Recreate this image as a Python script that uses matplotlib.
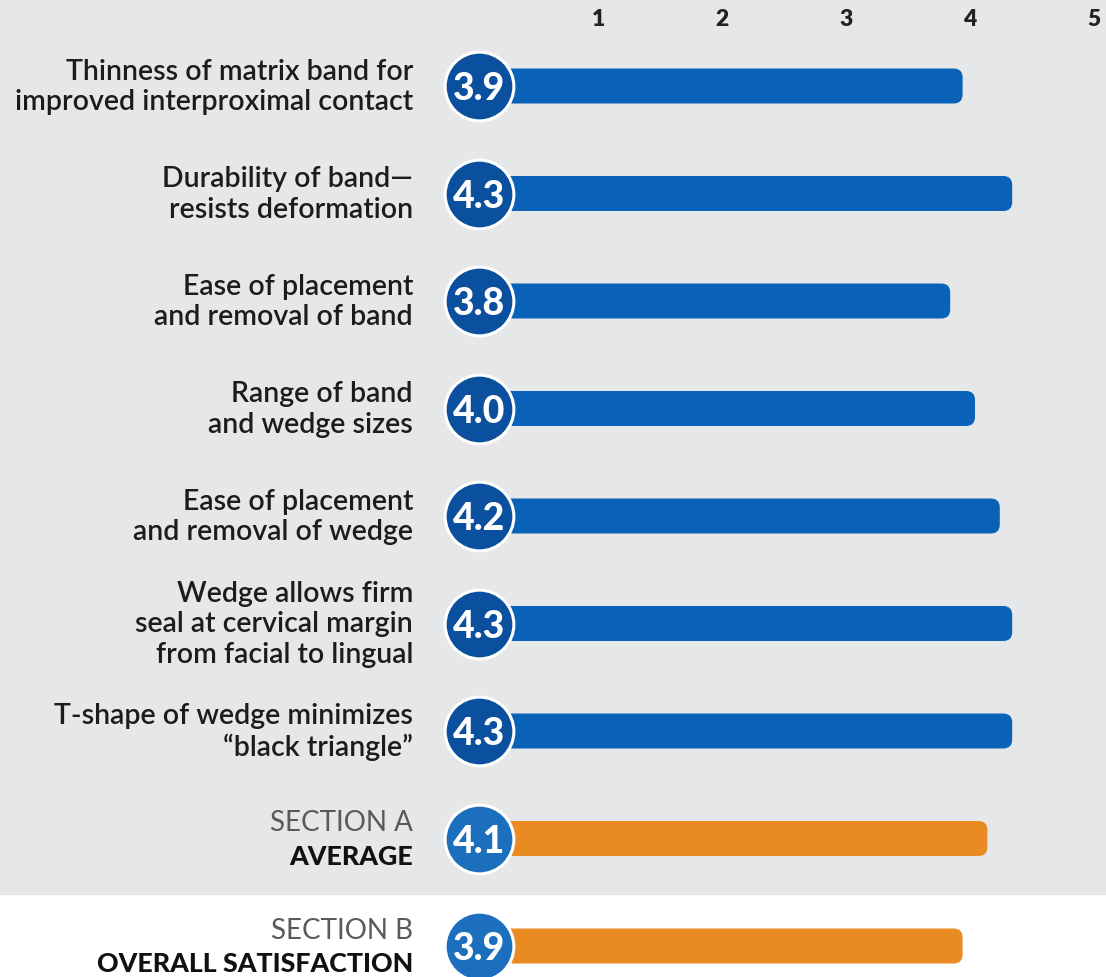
import matplotlib.pyplot as plt
from matplotlib.patches import FancyBboxPatch

labels = [
    "Thinness of matrix band for\nimproved interproximal contact",
    "Durability of band\u2014\nresists deformation",
    "Ease of placement\nand removal of band",
    "Range of band\nand wedge sizes",
    "Ease of placement\nand removal of wedge",
    "Wedge allows firm\nseal at cervical margin\nfrom facial to lingual",
    "T-shape of wedge minimizes\n\u201cblack triangle\u201d",
]
values = [3.9, 4.3, 3.8, 4.0, 4.2, 4.3, 4.3]

summary_top = ["SECTION A", "SECTION B"]
summary_bottom = ["AVERAGE", "OVERALL SATISFACTION"]
summary_values = [4.1, 3.9]

ticks = [1, 2, 3, 4, 5]

BLUE_BAR = "#0a62b8"
BLUE_DOT = "#0b4f9f"
BLUE_DOT_B = "#1b6fbd"
ORANGE = "#ea8a23"
GRAY_BG = "#e6e7e8"
TEXT = "#1c1c1c"

plt.rcParams["font.family"] = ["Lato", "DejaVu Sans"]

W, H = 1106, 978
fig = plt.figure(figsize=(W / 100, H / 100), dpi=100)
ax = fig.add_axes([0, 0, 1, 1])

# pixel mapping: x_px = 479 + 124 * v, y_px = 87 + 107.5 * row
px_x, x0 = 124.0, 479.0
px_y, y0 = 107.5, 87.0
ax.set_xlim(-x0 / px_x, (W - x0) / px_x)
ax.set_ylim((H - y0) / px_y, -y0 / px_y)
ax.axis("off")

ax.axhspan(-2, 7.52, color=GRAY_BG, zorder=0)

bar_h = 35 / px_y
round_px = 9
aspect = (1 / px_y) / (1 / px_x)


def draw_row(row, value, bar_color, dot_color):
    box = FancyBboxPatch(
        (0, row - bar_h / 2), value, bar_h,
        boxstyle=f"round,pad=0,rounding_size={round_px / px_x}",
        mutation_aspect=aspect,
        facecolor=bar_color, edgecolor="none", zorder=2,
    )
    ax.add_patch(box)
    ax.scatter([0], [row], s=2450, color=dot_color, edgecolors="white",
               linewidths=2.2, zorder=3)
    ax.text(0, row + 0.02, f"{value:.1f}", ha="center", va="center",
            color="white", fontsize=27, fontweight="black", zorder=4)


label_x = (413 - x0) / px_x

for i, (lab, val) in enumerate(zip(labels, values)):
    draw_row(i, val, BLUE_BAR, BLUE_DOT)
    ax.text(label_x, i, lab, ha="right", va="center", fontsize=20.5,
            color=TEXT, linespacing=1.22, fontweight="semibold")

for j, (top, bottom, val) in enumerate(zip(summary_top, summary_bottom, summary_values)):
    row = len(values) + j
    draw_row(row, val, ORANGE, BLUE_DOT_B)
    ax.text(label_x, row - 0.15, top, ha="right", va="center", fontsize=20,
            color="#5a5a5a", fontweight="normal")
    ax.text(label_x, row + 0.16, bottom, ha="right", va="center", fontsize=19.3,
            color="#111111", fontweight="black")

tick_y = (20 - y0) / px_y
for t in ticks:
    ax.text(t - 0.04, tick_y, str(t), ha="center", va="center", fontsize=16.5,
            fontweight="heavy", color="#222222")

fig.savefig("out.png", dpi=100)
